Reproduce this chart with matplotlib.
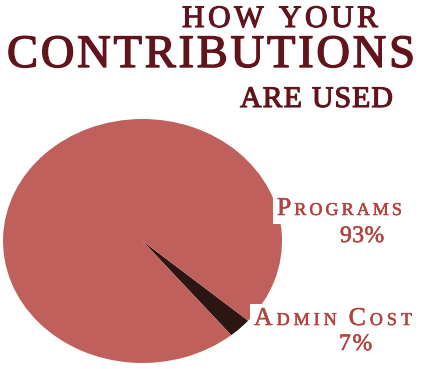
import matplotlib.pyplot as plt
import matplotlib.patheffects as pe

# chart data
categories = ['Admin Cost', 'Programs']
pct_labels = ['7%', '93%']
# share of the circle each wedge covers as drawn (the dark wedge is drawn thinner than its 7% label)
wedge_share = [2.7, 97.3]
title_lines = ['HOW YOUR', 'CONTRIBUTIONS', 'ARE USED']

pie_colors = ['#2b1614', '#c0605c']
title_color = '#62141c'
label_color = '#b3433f'
W, H = 422, 369

plt.rcParams['font.family'] = ['Liberation Serif', 'DejaVu Serif']

fig = plt.figure(figsize=(W / 100, H / 100), dpi=100)
fig.patch.set_facecolor('white')

# pie axes in pixel box, stretched into an ellipse
ax = fig.add_axes([3 / W, 6 / H, 279 / W, 244 / H])
ax.pie(wedge_share, colors=pie_colors, startangle=-50.5, counterclock=True,
       wedgeprops={'linewidth': 0})
ax.set_aspect('auto')
ax.set_xlim(-1, 1)
ax.set_ylim(-1, 1)
ax.axis('off')

fig.canvas.draw()
renderer = fig.canvas.get_renderer()


def fit_text(runs, x0, x1, base, color, space_px=6, stroke=0.0, box_first=False):
    # lay out characters one by one so the word fills x0..x1 (letter-spaced caps)
    chars = []
    for s, size in runs:
        for ch in s:
            chars.append((ch, size))
    widths = []
    for ch, size in chars:
        if ch == ' ':
            widths.append(space_px)
            continue
        t = fig.text(0, 0, ch, fontsize=size)
        widths.append(t.get_window_extent(renderer).width)
        t.remove()
    gap = (x1 - x0 - sum(widths)) / max(len(chars) - 1, 1)
    x = x0
    for i, ((ch, size), w) in enumerate(zip(chars, widths)):
        if ch != ' ':
            kw = {}
            if stroke:
                kw['path_effects'] = [pe.withStroke(linewidth=stroke, foreground=color)]
            if box_first and i == 0:
                kw['bbox'] = dict(facecolor='white', edgecolor='none', pad=3)
            fig.text(x / W, 1 - base / H, ch, color=color, fontsize=size,
                     ha='left', va='baseline', zorder=5, **kw)
        x += w + gap


# title, three lines
fit_text([(title_lines[0], 22.5)], 182, 378, 27, title_color, space_px=8, stroke=0.8)
fit_text([(title_lines[1], 33.5)], 7, 415, 67, title_color, stroke=1.0)
fit_text([(title_lines[2], 21.5)], 240, 393, 107, title_color, space_px=8, stroke=0.8)

# slice labels in small caps
prog = categories[1].upper()
fit_text([(prog[0], 18.5), (prog[1:], 13)], 277, 402, 215, label_color,
         stroke=0.4, box_first=True)
fit_text([(pct_labels[1], 17)], 340, 384, 242, label_color, stroke=0.4)

adm = categories[0].upper().split(' ')
fit_text([(adm[0][0], 18.5), (adm[0][1:], 13), (' ', 13), (adm[1][0], 18.5), (adm[1][1:], 13)],
         254, 412, 325, label_color, space_px=4, stroke=0.4, box_first=True)
fit_text([(pct_labels[0], 17)], 339, 372, 350, label_color, stroke=0.4)

plt.savefig('out.png', dpi=100)
